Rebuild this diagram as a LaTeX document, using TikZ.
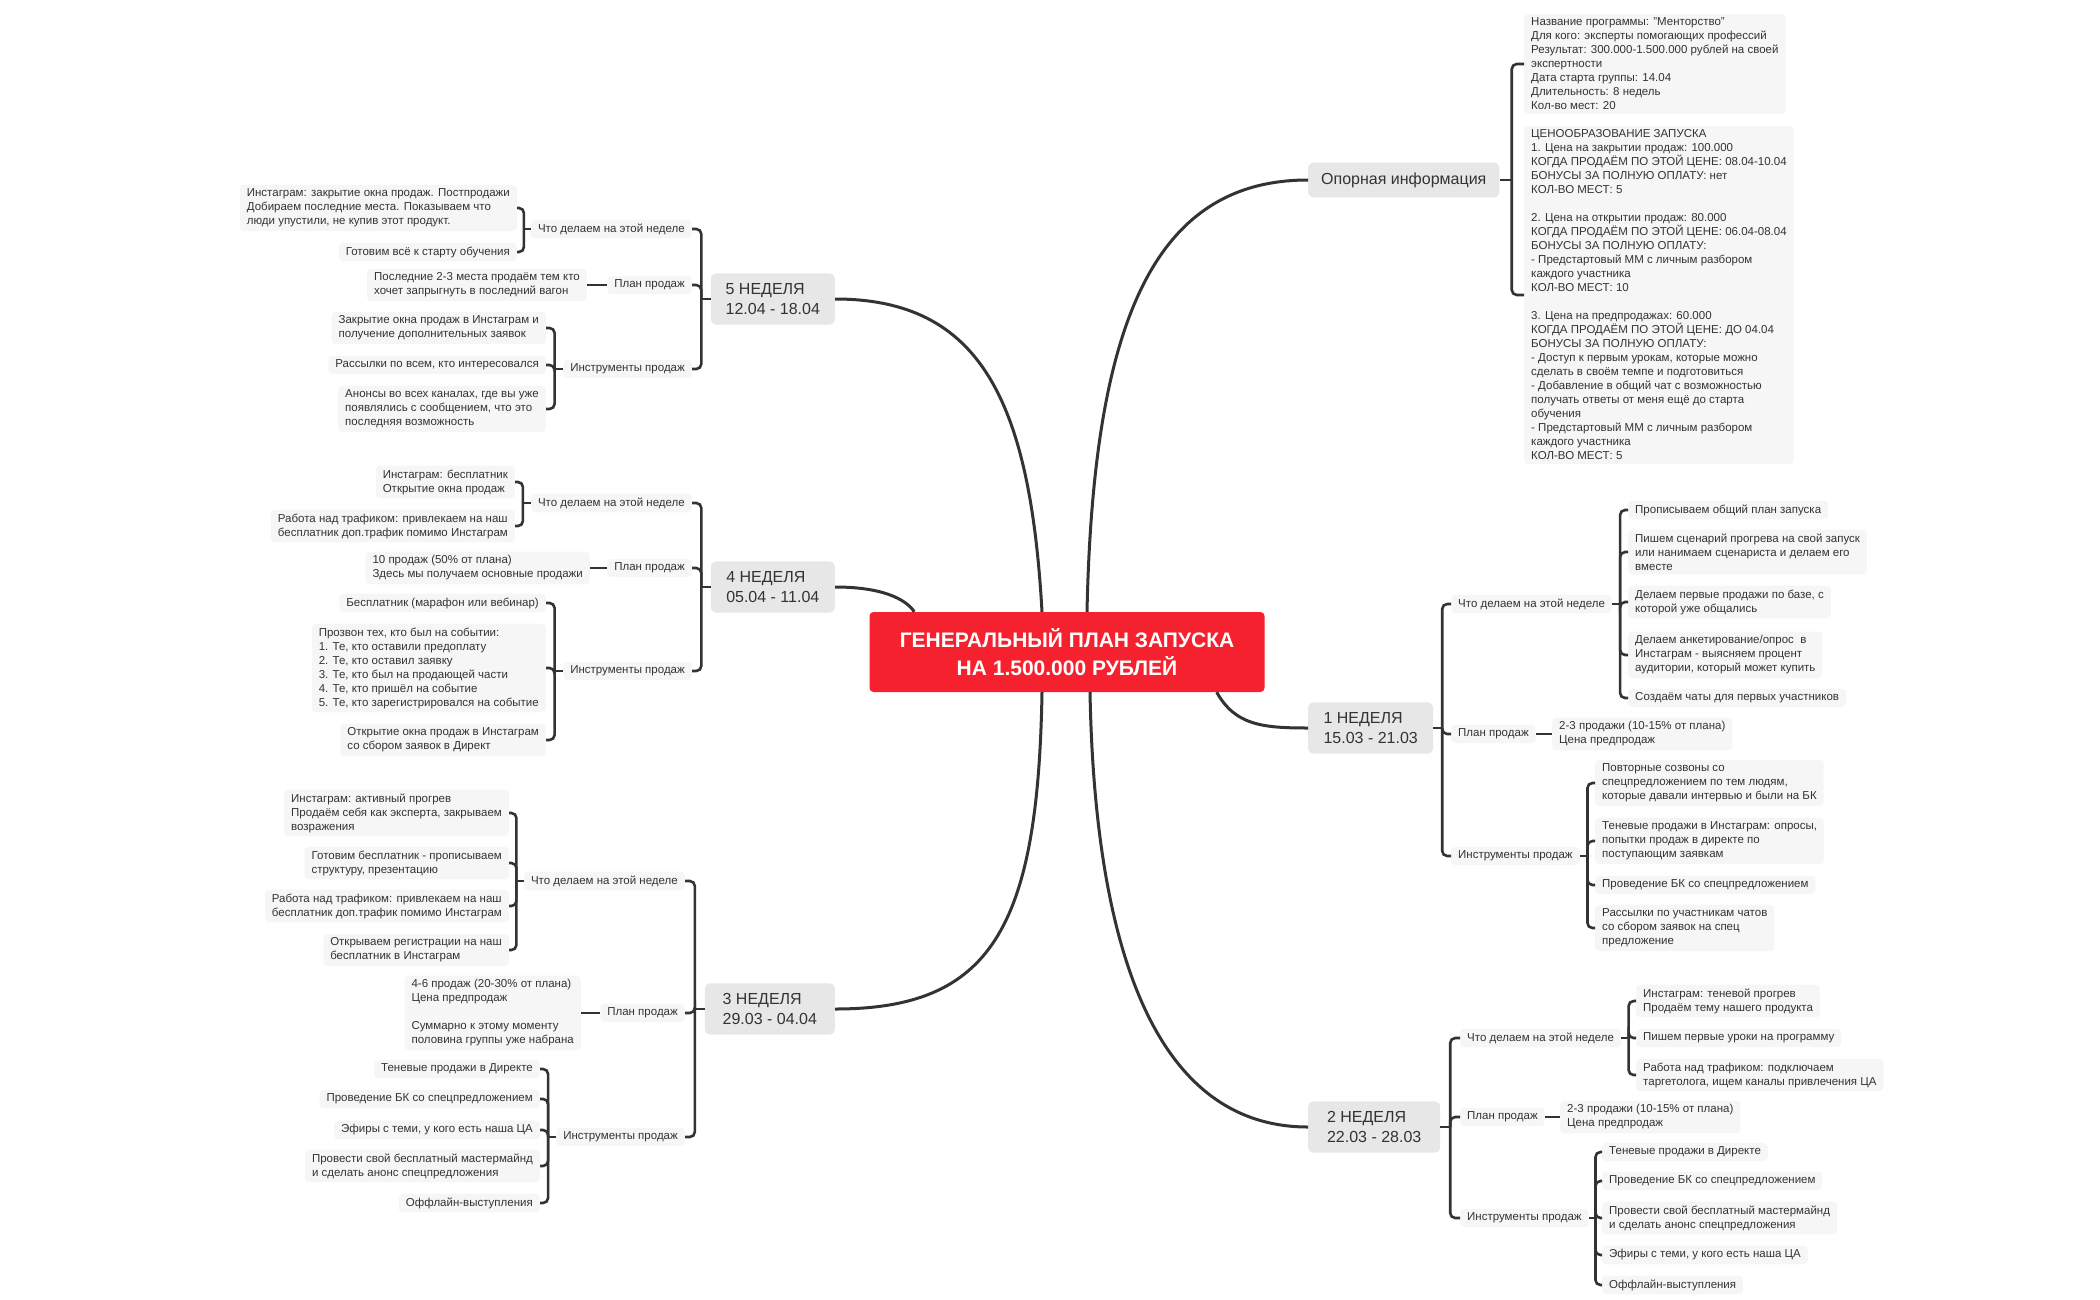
\documentclass[tikz,border=0pt]{standalone}
\usepackage{fontspec}
\setmainfont{Liberation Sans}
\usetikzlibrary{calc}
\definecolor{rootred}{RGB}{245,33,46}
\definecolor{weekgray}{RGB}{231,231,231}
\definecolor{leafgray}{RGB}{246,246,246}
\definecolor{inkgray}{RGB}{51,51,51}
\tikzset{
  root/.style={fill=rootred, text=white, rounded corners=4, align=center,
    font=\fontsize{21}{28}\selectfont\bfseries, minimum width=395, minimum height=80},
  week/.style={fill=weekgray, text=inkgray, rounded corners=5, align=left,
    font=\fontsize{16}{20}\selectfont, inner xsep=13, inner ysep=10},
  topic/.style={fill=leafgray, text=inkgray, rounded corners=4, align=left,
    font=\fontsize{11.5}{14}\selectfont, inner xsep=7, inner ysep=4},
  trunk/.style={draw=inkgray, line width=3},
  twig/.style={draw=inkgray, line width=2.6, rounded corners=5},
}
% junction halfway between a parent and the side of its children
\def\fork(#1)(#2)(#3){\coordinate (#1) at ($(#2)!.5!(#3 |- #2)$);}

\begin{document}
\begin{tikzpicture}[x=1pt,y=-1pt]
		%%%%% START %%%%%
		\useasboundingbox (0,0) rectangle (2100,1300);
		
		\node[root] (root) at (1067,652) {ГЕНЕРАЛЬНЫЙ ПЛАН ЗАПУСКА\\НА 1.500.000 РУБЛЕЙ};
		
		\node[week, anchor=west] (info) at (1308,180) {Опорная информация};
		\node[week, anchor=west, minimum width=125] (w1) at (1308,728) {1 НЕДЕЛЯ\\15.03 - 21.03};
		\node[week, anchor=west, minimum width=132] (w2) at (1308,1127) {2 НЕДЕЛЯ\\22.03 - 28.03};
		\node[week, anchor=east, minimum width=124] (w5) at (835,299) {5 НЕДЕЛЯ\\12.04 - 18.04};
		\node[week, anchor=east, minimum width=124] (w4) at (835,587) {4 НЕДЕЛЯ\\05.04 - 11.04};
		\node[week, anchor=east, minimum width=130] (w3) at (835,1009) {3 НЕДЕЛЯ\\29.03 - 04.04};
		
		\draw[trunk] ([xshift=20]root.north) .. controls (1093,330) and (1150,180) .. (info.west);
		\draw[trunk] ([xshift=-48]root.south east) .. controls (1235,725) and (1262,728) .. (w1.west);
		\draw[trunk] ([xshift=23]root.south) .. controls (1095,960) and (1160,1127) .. (w2.west);
		\draw[trunk] ([xshift=-25]root.north) .. controls (1030,400) and (980,299) .. (w5.east);
		\draw[trunk] ([xshift=45]root.north west) .. controls (905,598) and (880,587) .. (w4.east);
		\draw[trunk] ([xshift=-25]root.south) .. controls (1038,930) and (990,1009) .. (w3.east);
		
		% opornaya
		\node[topic, anchor=west] (ia) at (1524,64) {Название программы: "Менторство"\\Для кого: эксперты помогающих профессий\\Результат: 300.000-1.500.000 рублей на своей\\экспертности\\Дата старта группы: 14.04\\Длительность: 8 недель\\Кол-во мест: 20};
		\node[topic, anchor=west] (ib) at (1524,295) {ЦЕНООБРАЗОВАНИЕ ЗАПУСКА\\1. Цена на закрытии продаж: 100.000\\КОГДА ПРОДАЁМ ПО ЭТОЙ ЦЕНЕ: 08.04-10.04\\БОНУСЫ ЗА ПОЛНУЮ ОПЛАТУ: нет\\КОЛ-ВО МЕСТ: 5\\[14pt]2. Цена на открытии продаж: 80.000\\КОГДА ПРОДАЁМ ПО ЭТОЙ ЦЕНЕ: 06.04-08.04\\БОНУСЫ ЗА ПОЛНУЮ ОПЛАТУ:\\- Предстартовый ММ с личным разбором\\каждого участника\\КОЛ-ВО МЕСТ: 10\\[14pt]3. Цена на предпродажах: 60.000\\КОГДА ПРОДАЁМ ПО ЭТОЙ ЦЕНЕ: ДО 04.04\\БОНУСЫ ЗА ПОЛНУЮ ОПЛАТУ:\\- Доступ к первым урокам, которые можно\\сделать в своём темпе и подготовиться\\- Добавление в общий чат с возможностью\\получать ответы от меня ещё до старта\\обучения\\- Предстартовый ММ с личным разбором\\каждого участника\\КОЛ-ВО МЕСТ: 5};
		\fork(ji)(info.east)(ia.west)
		\draw[twig] (info.east) -- (ji);
		\foreach \k in {ia,ib} \draw[twig] (ji) |- (\k.west);
		
		% 1 nedelya
		\node[topic, anchor=west] (w1a) at (1451,604) {Что делаем на этой неделе};
		\node[topic, anchor=west] (w1b) at (1451,734) {План продаж};
		\node[topic, anchor=west] (w1c) at (1451,856) {Инструменты продаж};
		\fork(j1)(w1.east)(w1a.west)
		\draw[twig] (w1.east) -- (j1);
		\foreach \k in {w1a,w1b,w1c} \draw[twig] (j1) |- (\k.west);
		
		\node[topic, anchor=west] (w1a1) at (1628,510) {Прописываем общий план запуска};
		\node[topic, anchor=west] (w1a2) at (1628,552) {Пишем сценарий прогрева на свой запуск\\или нанимаем сценариста и делаем его\\вместе};
		\node[topic, anchor=west] (w1a3) at (1628,602) {Делаем первые продажи по базе, с\\которой уже общались};
		\node[topic, anchor=west] (w1a4) at (1628,655) {Делаем анкетирование/опрос \ в\\Инстаграм - выясняем процент\\аудитории, который может купить};
		\node[topic, anchor=west] (w1a5) at (1628,698) {Создаём чаты для первых участников};
		\fork(j1a)(w1a.east)(w1a1.west)
		\draw[twig] (w1a.east) -- (j1a);
		\foreach \k in {w1a1,w1a2,w1a3,w1a4,w1a5} \draw[twig] (j1a) |- (\k.west);
		
		\node[topic, anchor=west] (w1b1) at (1552,734) {2-3 продажи (10-15\% от плана)\\Цена предпродаж};
		\draw[twig] (w1b.east) -- (w1b1.west);
		
		\node[topic, anchor=west] (w1c1) at (1595,783) {Повторные созвоны со\\спецпредложением по тем людям,\\которые давали интервью и были на БК};
		\node[topic, anchor=west] (w1c2) at (1595,841) {Теневые продажи в Инстаграм: опросы,\\попытки продаж в директе по\\поступающим заявкам};
		\node[topic, anchor=west] (w1c3) at (1595,885) {Проведение БК со спецпредложением};
		\node[topic, anchor=west] (w1c4) at (1595,928) {Рассылки по участникам чатов\\со сбором заявок на спец\\предложение};
		\fork(j1c)(w1c.east)(w1c1.west)
		\draw[twig] (w1c.east) -- (j1c);
		\foreach \k in {w1c1,w1c2,w1c3,w1c4} \draw[twig] (j1c) |- (\k.west);
		
		% 2 nedelya
		\node[topic, anchor=west] (w2a) at (1460,1038) {Что делаем на этой неделе};
		\node[topic, anchor=west] (w2b) at (1460,1117) {План продаж};
		\node[topic, anchor=west] (w2c) at (1460,1218) {Инструменты продаж};
		\fork(j2)(w2.east)(w2a.west)
		\draw[twig] (w2.east) -- (j2);
		\foreach \k in {w2a,w2b,w2c} \draw[twig] (j2) |- (\k.west);
		
		\node[topic, anchor=west] (w2a1) at (1636,1001) {Инстаграм: теневой прогрев\\Продаём тему нашего продукта};
		\node[topic, anchor=west] (w2a2) at (1636,1038) {Пишем первые уроки на программу};
		\node[topic, anchor=west] (w2a3) at (1636,1075) {Работа над трафиком: подключаем\\таргетолога, ищем каналы привлечения ЦА};
		\fork(j2a)(w2a.east)(w2a1.west)
		\draw[twig] (w2a.east) -- (j2a);
		\foreach \k in {w2a1,w2a2,w2a3} \draw[twig] (j2a) |- (\k.west);
		
		\node[topic, anchor=west] (w2b1) at (1560,1117) {2-3 продажи (10-15\% от плана)\\Цена предпродаж};
		\draw[twig] (w2b.east) -- (w2b1.west);
		
		\node[topic, anchor=west] (w2c1) at (1602,1152) {Теневые продажи в Директе};
		\node[topic, anchor=west] (w2c2) at (1602,1181) {Проведение БК со спецпредложением};
		\node[topic, anchor=west] (w2c3) at (1602,1218) {Провести свой бесплатный мастермайнд\\и сделать анонс спецпредложения};
		\node[topic, anchor=west] (w2c4) at (1602,1255) {Эфиры с теми, у кого есть наша ЦА};
		\node[topic, anchor=west] (w2c5) at (1602,1285) {Оффлайн-выступления};
		\fork(j2c)(w2c.east)(w2c1.west)
		\draw[twig] (w2c.east) -- (j2c);
		\foreach \k in {w2c1,w2c2,w2c3,w2c4,w2c5} \draw[twig] (j2c) |- (\k.west);
		
		% 5 nedelya
		\node[topic, anchor=east] (w5a) at (692,229) {Что делаем на этой неделе};
		\node[topic, anchor=east] (w5b) at (692,285) {План продаж};
		\node[topic, anchor=east] (w5c) at (692,369) {Инструменты продаж};
		\fork(j5)(w5.west)(w5a.east)
		\draw[twig] (w5.west) -- (j5);
		\foreach \k in {w5a,w5b,w5c} \draw[twig] (j5) |- (\k.east);
		
		\node[topic, anchor=east] (w5a1) at (517,208) {Инстаграм: закрытие окна продаж. Постпродажи\\Добираем последние места. Показываем что\\люди упустили, не купив этот продукт.};
		\node[topic, anchor=east] (w5a2) at (517,252) {Готовим всё к старту обучения};
		\fork(j5a)(w5a.west)(w5a1.east)
		\draw[twig] (w5a.west) -- (j5a);
		\foreach \k in {w5a1,w5a2} \draw[twig] (j5a) |- (\k.east);
		
		\node[topic, anchor=east] (w5b1) at (587,285) {Последние 2-3 места продаём тем кто\\хочет запрыгнуть в последний вагон};
		\draw[twig] (w5b.west) -- (w5b1.east);
		
		\node[topic, anchor=east] (w5c1) at (546,328) {Закрытие окна продаж в Инстаграм и\\получение дополнительных заявок};
		\node[topic, anchor=east] (w5c2) at (546,365) {Рассылки по всем, кто интересовался};
		\node[topic, anchor=east] (w5c3) at (546,409) {Анонсы во всех каналах, где вы уже\\появлялись с сообщением, что это\\последняя возможность};
		\fork(j5c)(w5c.west)(w5c1.east)
		\draw[twig] (w5c.west) -- (j5c);
		\foreach \k in {w5c1,w5c2,w5c3} \draw[twig] (j5c) |- (\k.east);
		
		% 4 nedelya
		\node[topic, anchor=east] (w4a) at (692,503) {Что делаем на этой неделе};
		\node[topic, anchor=east] (w4b) at (692,568) {План продаж};
		\node[topic, anchor=east] (w4c) at (692,671) {Инструменты продаж};
		\fork(j4)(w4.west)(w4a.east)
		\draw[twig] (w4.west) -- (j4);
		\foreach \k in {w4a,w4b,w4c} \draw[twig] (j4) |- (\k.east);
		
		\node[topic, anchor=east] (w4a1) at (515,482) {Инстаграм: бесплатник\\Открытие окна продаж};
		\node[topic, anchor=east] (w4a2) at (515,526) {Работа над трафиком: привлекаем на наш\\бесплатник доп.трафик помимо Инстаграм};
		\fork(j4a)(w4a.west)(w4a1.east)
		\draw[twig] (w4a.west) -- (j4a);
		\foreach \k in {w4a1,w4a2} \draw[twig] (j4a) |- (\k.east);
		
		\node[topic, anchor=east] (w4b1) at (590,568) {10 продаж (50\% от плана)\\Здесь мы получаем основные продажи};
		\draw[twig] (w4b.west) -- (w4b1.east);
		
		\node[topic, anchor=east] (w4c1) at (546,603) {Бесплатник (марафон или вебинар)};
		\node[topic, anchor=east] (w4c2) at (546,668) {Прозвон тех, кто был на событии:\\1. Те, кто оставили предоплату\\2. Те, кто оставил заявку\\3. Те, кто был на продающей части\\4. Те, кто пришёл на событие\\5. Те, кто зарегистрировался на событие};
		\node[topic, anchor=east] (w4c3) at (546,740) {Открытие окна продаж в Инстаграм\\со сбором заявок в Директ};
		\fork(j4c)(w4c.west)(w4c1.east)
		\draw[twig] (w4c.west) -- (j4c);
		\foreach \k in {w4c1,w4c2,w4c3} \draw[twig] (j4c) |- (\k.east);
		
		% 3 nedelya
		\node[topic, anchor=east] (w3a) at (685,881) {Что делаем на этой неделе};
		\node[topic, anchor=east] (w3b) at (685,1013) {План продаж};
		\node[topic, anchor=east] (w3c) at (685,1137) {Инструменты продаж};
		\fork(j3)(w3.west)(w3a.east)
		\draw[twig] (w3.west) -- (j3);
		\foreach \k in {w3a,w3b,w3c} \draw[twig] (j3) |- (\k.east);
		
		\node[topic, anchor=east] (w3a1) at (509,813) {Инстаграм: активный прогрев\\Продаём себя как эксперта, закрываем\\возражения};
		\node[topic, anchor=east] (w3a2) at (509,863) {Готовим бесплатник - прописываем\\структуру, презентацию};
		\node[topic, anchor=east] (w3a3) at (509,906) {Работа над трафиком: привлекаем на наш\\бесплатник доп.трафик помимо Инстаграм};
		\node[topic, anchor=east] (w3a4) at (509,950) {Открываем регистрации на наш\\бесплатник в Инстаграм};
		\fork(j3a)(w3a.west)(w3a1.east)
		\draw[twig] (w3a.west) -- (j3a);
		\foreach \k in {w3a1,w3a2,w3a3,w3a4} \draw[twig] (j3a) |- (\k.east);
		
		\node[topic, anchor=east] (w3b1) at (581,1013) {4-6 продаж (20-30\% от плана)\\Цена предпродаж\\[14pt]Суммарно к этому моменту\\половина группы уже набрана};
		\draw[twig] (w3b.west) -- (w3b1.east);
		
		\node[topic, anchor=east] (w3c1) at (540,1069) {Теневые продажи в Директе};
		\node[topic, anchor=east] (w3c2) at (540,1099) {Проведение БК со спецпредложением};
		\node[topic, anchor=east] (w3c3) at (540,1130) {Эфиры с теми, у кого есть наша ЦА};
		\node[topic, anchor=east] (w3c4) at (540,1166) {Провести свой бесплатный мастермайнд\\и сделать анонс спецпредложения};
		\node[topic, anchor=east] (w3c5) at (540,1203) {Оффлайн-выступления};
		\fork(j3c)(w3c.west)(w3c1.east)
		\draw[twig] (w3c.west) -- (j3c);
		\foreach \k in {w3c1,w3c2,w3c3,w3c4,w3c5} \draw[twig] (j3c) |- (\k.east);
		
		%%%%% END %%%%%
	\end{tikzpicture}
\end{document}
